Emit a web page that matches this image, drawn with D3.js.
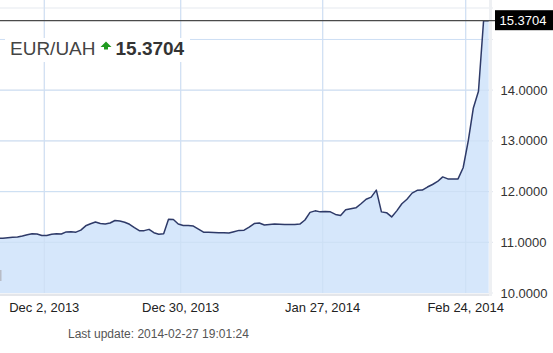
<!DOCTYPE html>
<html>
<head>
<meta charset="utf-8">
<script src="https://cdn.jsdelivr.net/npm/d3@7"></script>
<style>
  body { margin: 0; background: #fff; }
  text { font-family: "Liberation Sans", Arial, sans-serif; }
</style>
</head>
<body>
<script>
const pair = 'EUR/UAH';
const lastValue = 15.3704;
const lastUpdate = 'Last update: 2014-02-27 19:01:24';

// one quote per day, starting Nov 22, 2013
const firstDay = '2013-11-22';
const rates = [
  11.08, 11.08, 11.09, 11.10, 11.105, 11.125, 11.15, 11.17, 11.165, 11.135,
  11.135, 11.16, 11.17, 11.163, 11.205, 11.21, 11.20, 11.24, 11.325, 11.365,
  11.40, 11.37, 11.36, 11.38, 11.43, 11.42, 11.395, 11.355, 11.29, 11.23,
  11.23, 11.255, 11.19, 11.16, 11.17, 11.455, 11.45, 11.36, 11.33, 11.33,
  11.32, 11.26, 11.20, 11.20, 11.195, 11.19, 11.19, 11.185, 11.21, 11.235,
  11.24, 11.30, 11.37, 11.38, 11.34, 11.35, 11.36, 11.355, 11.35, 11.35,
  11.35, 11.36, 11.44, 11.59, 11.62, 11.60, 11.605, 11.60, 11.55, 11.53,
  11.64, 11.66, 11.68, 11.76, 11.85, 11.89, 12.03, 11.60, 11.585, 11.50,
  11.62, 11.76, 11.85, 11.97, 12.025, 12.03, 12.09, 12.14, 12.20, 12.29,
  12.25, 12.25, 12.25, 12.47, 13.00, 13.65, 13.98, 15.3704, 15.3704
];

const xTicks = ['2013-12-02', '2013-12-30', '2014-01-27', '2014-02-24'];
const yGrid = [10, 11, 12, 13, 14, 15];
const yLabels = [10, 11, 12, 13, 14];

const W = 553, H = 353;
const plotRight = 489, plotBottom = 293;

const parse = d3.timeParse('%Y-%m-%d');
const start = d3.timeHour.offset(parse(firstDay), 12);
const data = rates.map((v, i) => ({ date: d3.timeDay.offset(start, i), value: v }));
const tickDates = xTicks.map(parse);

// axis is not strictly linear in time (holidays squeeze December a bit)
const x = d3.scaleTime()
  .domain(tickDates)
  .range([44.3, 180.7, 322.7, 465.7]);
const y = d3.scaleLinear()
  .domain([10, lastValue])
  .range([plotBottom, 20.7]);

const svg = d3.select('body').append('svg')
  .attr('width', W)
  .attr('height', H)
  .attr('xmlns', 'http://www.w3.org/2000/svg');

svg.append('clipPath').attr('id', 'plot')
  .append('rect').attr('x', 0).attr('y', 0).attr('width', plotRight).attr('height', plotBottom);

// grid
const grid = svg.append('g').attr('stroke', '#e6e9f0').attr('stroke-width', 1.2);
grid.append('line').attr('x1', 0).attr('x2', 493).attr('y1', 8).attr('y2', 8);
grid.selectAll('.hg').data(yGrid).join('line')
  .attr('x1', 0).attr('x2', 493)
  .attr('y1', d => y(d)).attr('y2', d => y(d));
grid.selectAll('.vg').data(tickDates).join('line')
  .attr('x1', d => x(d)).attr('x2', d => x(d))
  .attr('y1', 0).attr('y2', plotBottom);

const plot = svg.append('g').attr('clip-path', 'url(#plot)');

plot.append('path')
  .datum(data)
  .attr('fill', '#d6e7fb')
  .attr('d', d3.area().x(d => x(d.date)).y0(plotBottom).y1(d => y(d.value)));

// gridlines show through the fill faintly
plot.selectAll('.vg2').data(tickDates).join('line')
  .attr('x1', d => x(d)).attr('x2', d => x(d))
  .attr('y1', 0).attr('y2', plotBottom)
  .attr('stroke', '#cddff4').attr('stroke-width', 1);
plot.selectAll('.hg2').data(yGrid.slice(1)).join('line')
  .attr('x1', 0).attr('x2', plotRight)
  .attr('y1', d => y(d)).attr('y2', d => y(d))
  .attr('stroke', '#cddff4').attr('stroke-width', 1);

plot.append('path')
  .datum(data)
  .attr('fill', 'none')
  .attr('stroke', '#2e3a68')
  .attr('stroke-width', 1.5)
  .attr('stroke-linejoin', 'round')
  .attr('d', d3.line().x(d => x(d.date)).y(d => y(d.value)));

// frame
svg.append('line').attr('x1', 0).attr('x2', 492).attr('y1', 295).attr('y2', 295)
  .attr('stroke', '#e4e6ea').attr('stroke-width', 2);
svg.append('line').attr('x1', 490.5).attr('x2', 490.5).attr('y1', 0).attr('y2', 296)
  .attr('stroke', '#eef0f3').attr('stroke-width', 3);
svg.append('rect').attr('x', 0).attr('y', 270).attr('width', 1.5).attr('height', 11)
  .attr('fill', '#b8bcc6');

// current value line and label
svg.append('line')
  .attr('x1', 0).attr('x2', 495)
  .attr('y1', y(lastValue)).attr('y2', y(lastValue))
  .attr('stroke', '#4a4a4a').attr('stroke-width', 1.2);
svg.append('rect')
  .attr('x', 495).attr('y', y(lastValue) - 10.5)
  .attr('width', 58).attr('height', 20)
  .attr('fill', '#000');
svg.append('text')
  .attr('x', 499.5).attr('y', y(lastValue) + 4.5)
  .attr('font-size', 13).attr('fill', '#fff')
  .text(d3.format('.4f')(lastValue));

// y labels
svg.append('g').selectAll('text').data(yLabels).join('text')
  .attr('x', 500.5).attr('y', d => y(d) + 4.5)
  .attr('font-size', 13).attr('fill', '#333')
  .text(d3.format('.4f'));

// x labels
const fmt = d3.timeFormat('%b %-d, %Y');
svg.append('g').selectAll('text').data(tickDates).join('text')
  .attr('x', d => x(d)).attr('y', 311.5)
  .attr('text-anchor', 'middle')
  .attr('font-size', 13).attr('fill', '#222')
  .text(fmt);

// title box
svg.append('rect').attr('x', 5).attr('y', 38).attr('width', 185).attr('height', 24).attr('fill', '#fff');
svg.append('text').attr('x', 10).attr('y', 55)
  .attr('font-size', 19).attr('fill', '#444')
  .text(pair);
svg.append('path')
  .attr('d', 'M106,41.5 L111.5,47 L108,47 L108,49.5 L104,49.5 L104,47 L100.5,47 Z')
  .attr('fill', '#1f9a1f');
svg.append('text').attr('x', 115.5).attr('y', 55)
  .attr('font-size', 19).attr('font-weight', 'bold').attr('fill', '#333')
  .text(d3.format('.4f')(lastValue));

svg.append('text').attr('x', 68).attr('y', 337.5)
  .attr('font-size', 12).attr('fill', '#555')
  .text(lastUpdate);
</script>
</body>
</html>
